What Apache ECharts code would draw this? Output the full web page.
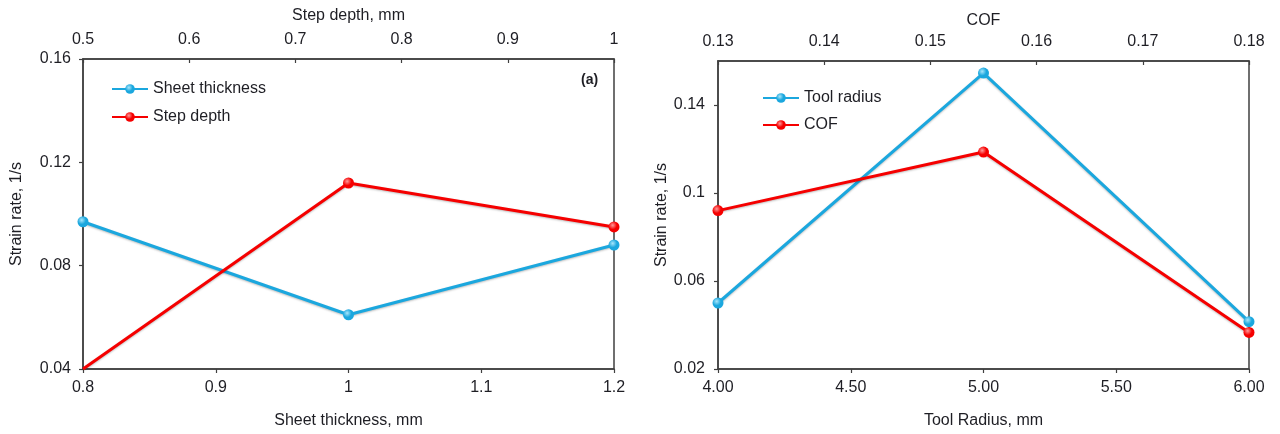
<!DOCTYPE html>
<html>
<head>
<meta charset="utf-8">
<script src="https://cdn.jsdelivr.net/npm/echarts@6/dist/echarts.min.js"></script>
<style>
html,body{margin:0;padding:0;background:#fff;}
#c{width:1280px;height:434px;}
</style>
</head>
<body>
<div id="c"></div>
<script>
// ---- data ----
const sheetThickness = [0.8, 1.0, 1.2];           // mm (bottom axis, left)
const strainSheet    = [0.097, 0.061, 0.088];     // 1/s
const stepDepth      = [0.5, 0.75, 1.0];          // mm (top axis, left)
const strainStep     = [0.04, 0.112, 0.095];      // 1/s
const toolRadius     = [4.0, 5.0, 6.0];           // mm (bottom axis, right)
const strainTool     = [0.050, 0.1545, 0.0415];   // 1/s
const cof            = [0.13, 0.155, 0.18];       // COF (top axis, right)
const strainCof      = [0.092, 0.1186, 0.0366];   // 1/s
const yTicksLeft     = [0.04, 0.08, 0.12, 0.16];
const yTicksRight    = [0.02, 0.06, 0.1, 0.14];

const FONT = '"Liberation Sans", Arial, sans-serif';
const TXT = '#1e1e24';
const AX = '#404040';
const BLUE = '#1ba7de';
const RED = '#f50000';

function ball(c, light) {
  return {type:'radial', x:0.38, y:0.35, r:0.7,
    colorStops:[{offset:0,color:light},{offset:0.55,color:c},{offset:1,color:c}]};
}
function pairs(xs, ys) { return xs.map((x,i)=>[x, ys[i]]); }

const axisBase = {
  axisLine:{show:true, onZero:false, lineStyle:{color:AX, width:1.5}},
  axisTick:{show:true, length:4, lineStyle:{color:AX, width:1.2}},
  splitLine:{show:false},
  axisLabel:{color:TXT, fontFamily:FONT, fontSize:16, margin:11},
  nameTextStyle:{color:TXT, fontFamily:FONT, fontSize:16},
  nameLocation:'middle'
};
function ax(o){ return Object.assign({}, JSON.parse(JSON.stringify(axisBase)), o, {
  axisLabel:Object.assign({}, axisBase.axisLabel, o.axisLabel||{}),
  axisTick:Object.assign({}, axisBase.axisTick, o.axisTick||{})
}); }

const seriesStyle = (color, light) => ({
  type:'line', symbol:'circle', symbolSize:11,
  lineStyle:{color:color, width:3, shadowColor:'rgba(0,0,0,0.25)', shadowBlur:2, shadowOffsetY:1},
  itemStyle:{color:ball(color, light)},
  emphasis:{disabled:true}, animation:false
});

const stepData = pairs(stepDepth, strainStep).map((p,i)=> i===0 ? {value:p, symbolSize:0} : p);

const legendText = {color:TXT, fontFamily:FONT, fontSize:16};

const option = {
  animation:false,
  grid:[
    {left:83, right:666, top:59, bottom:64, show:true, borderColor:AX, borderWidth:1.5},
    {left:718, right:31, top:61, bottom:61, show:true, borderColor:AX, borderWidth:1.5}
  ],
  xAxis:[
    ax({type:'value', gridIndex:0, position:'bottom', min:0.8, max:1.2, interval:0.1,
        name:'Sheet thickness, mm', nameGap:44}),
    ax({type:'value', gridIndex:0, position:'top', min:0.5, max:1.0, interval:0.1,
        name:'Step depth, mm', nameGap:35, axisTick:{inside:true}}),
    ax({type:'value', gridIndex:1, position:'bottom', min:4, max:6, interval:0.5,
        name:'Tool Radius, mm', nameGap:44, axisLabel:{formatter:v=>v.toFixed(2)}}),
    ax({type:'value', gridIndex:1, position:'top', min:0.13, max:0.18, interval:0.01,
        name:'COF', nameGap:32, axisTick:{inside:true}})
  ],
  yAxis:[
    ax({type:'value', gridIndex:0, min:0.04, max:0.16, interval:0.04,
        name:'Strain rate, 1/s', nameGap:58, axisLabel:{margin:12, customValues:yTicksLeft},
        axisTick:{customValues:yTicksLeft}}),
    ax({type:'value', gridIndex:1, min:0.02, max:0.16,
        name:'Strain rate, 1/s', nameGap:48, axisLabel:{margin:13, customValues:yTicksRight},
        axisTick:{customValues:yTicksRight}})
  ],
  legend:[
    {data:['Sheet thickness','Step depth'], orient:'vertical', left:106, top:76,
     itemWidth:36, itemHeight:12, itemGap:12, textStyle:legendText, selectedMode:false},
    {data:['Tool radius','COF'], orient:'vertical', left:757, top:85,
     itemWidth:36, itemHeight:12, itemGap:11, textStyle:legendText, selectedMode:false}
  ],
  graphic:[
    {type:'text', left:581, top:73, style:{text:'(a)', font:'bold 14px '+FONT, fill:TXT}}
  ],
  series:[
    Object.assign(seriesStyle(BLUE,'#a8e6fb'), {name:'Sheet thickness', xAxisIndex:0, yAxisIndex:0, data:pairs(sheetThickness, strainSheet)}),
    Object.assign(seriesStyle(RED,'#ff9a9a'), {name:'Step depth', xAxisIndex:1, yAxisIndex:0, data:stepData}),
    Object.assign(seriesStyle(BLUE,'#a8e6fb'), {name:'Tool radius', xAxisIndex:2, yAxisIndex:1, data:pairs(toolRadius, strainTool)}),
    Object.assign(seriesStyle(RED,'#ff9a9a'), {name:'COF', xAxisIndex:3, yAxisIndex:1, data:pairs(cof, strainCof)})
  ]
};
const chart = echarts.init(document.getElementById('c'), null, {renderer:'canvas'});
chart.setOption(option);
</script>
</body>
</html>
